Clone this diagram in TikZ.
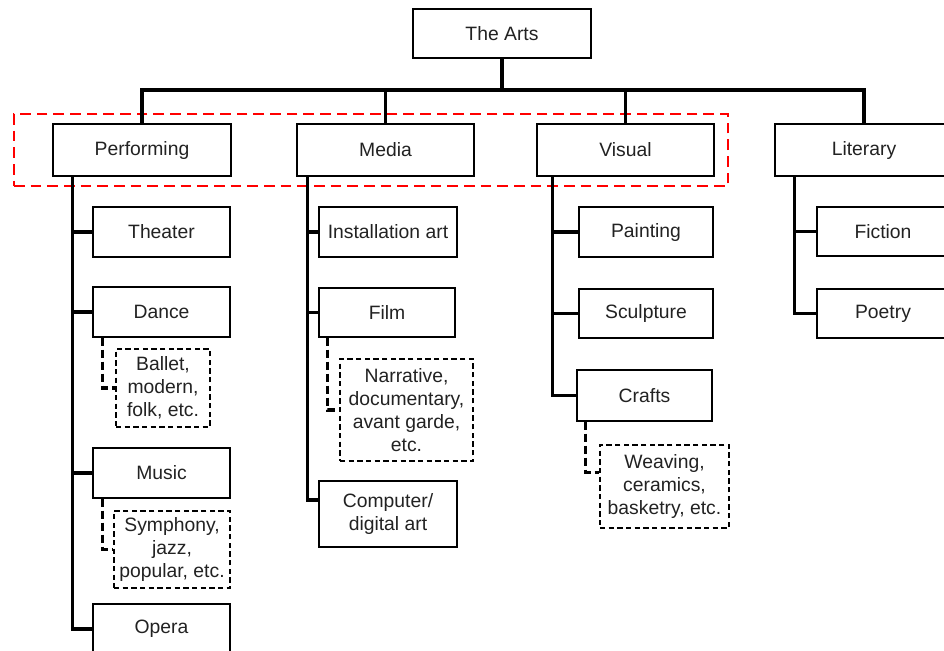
\documentclass[tikz,border=0pt]{standalone}
\usepackage{fontspec}
\setmainfont{Liberation Sans}
\usetikzlibrary{calc}
\definecolor{txt}{HTML}{222222}
\tikzset{
  box/.style={draw=black, line width=1.1pt, inner sep=0pt, text=txt, align=center, font=\fontsize{14.5}{17.4}\selectfont},
  dbox/.style={box, dashed, line width=1pt, dash pattern=on 4pt off 2.5pt},
  conn/.style={draw=black, line width=2.3pt, line cap=rect},
  dconn/.style={draw=black, line width=2.3pt, dash pattern=on 6pt off 3pt},
  grp/.style={draw=red, line width=1.8pt, dash pattern=on 8pt off 4.5pt, inner sep=0pt}
}
\newcommand\bx[7]{\node[#1, minimum width={(#5-#3)*0.75pt}, minimum height={(#6-#4)*0.75pt}] (#2) at ({(#3+#5)/2},{(#4+#6)/2}) {#7};}
\begin{document}
\begin{tikzpicture}[x=0.75pt, y=-0.75pt]
\useasboundingbox (0,0) rectangle (944,650);
\fill[white] (0,0) rectangle (944,650);
% top level
\bx{box}{arts}{413}{9}{591}{58}{The Arts}
\bx{box}{perf}{53}{124}{231}{176}{Performing}
\bx{box}{media}{297}{124}{474}{176}{Media}
\bx{box}{visual}{537}{124}{714}{176}{Visual}
\bx{box}{lit}{775}{124}{953}{176}{Literary}
\bx{grp}{group}{14}{114}{728}{186}{}
% performing
\bx{box}{theater}{93}{207}{230}{257}{Theater}
\bx{box}{dance}{93}{287}{230}{337}{Dance}
\bx{dbox}{ballet}{116}{349}{210}{427}{Ballet,\\modern,\\folk, etc.}
\bx{box}{music}{93}{448}{230}{498}{Music}
\bx{dbox}{symph}{114}{511}{230}{588}{Symphony,\\jazz,\\popular, etc.}
\bx{box}{opera}{93}{604}{230}{654}{Opera}
% media
\bx{box}{install}{319}{207}{457}{257}{Installation art}
\bx{box}{film}{319}{288}{455}{337}{Film}
\bx{dbox}{narr}{340}{359}{473}{461}{Narrative,\\documentary,\\avant garde,\\etc.}
\bx{box}{comp}{319}{481}{457}{547}{Computer/\\digital art}
% visual
\bx{box}{paint}{579}{207}{713}{257}{Painting}
\bx{box}{sculpt}{579}{289}{713}{338}{Sculpture}
\bx{box}{crafts}{577}{370}{712}{421}{Crafts}
\bx{dbox}{weave}{600}{445}{729}{528}{Weaving,\\ceramics,\\basketry, etc.}
% literary
\bx{box}{fiction}{817}{207}{949}{256}{Fiction}
\bx{box}{poetry}{817}{289}{949}{338}{Poetry}
% top connectors
\coordinate (bar) at (0,90);
\draw[conn] (arts.south) -- (arts.south |- bar);
\draw[conn] (perf.north) |- (bar -| lit.north) -- (lit.north);
\draw[conn] (media.north) -- (media.north |- bar);
\draw[conn] (visual.north) -- (visual.north |- bar);
% trunks
\coordinate (ptop) at ($(perf.south west)+(20,0)$);
\coordinate (mtop) at ($(media.south west)+(11,0)$);
\coordinate (vtop) at ($(visual.south west)+(16,0)$);
\coordinate (ltop) at ($(lit.south west)+(20,0)$);
\coordinate (compc) at ([yshift=10.5pt]comp.west);
\coordinate (weavec) at ([yshift=10.5pt]weave.west);
\draw[conn] (ptop) -- (ptop |- opera.west) -- (opera.west);
\draw[conn] (theater.west) -- (theater.west -| ptop);
\draw[conn] (dance.west) -- (dance.west -| ptop);
\draw[conn] (music.west) -- (music.west -| ptop);
\draw[conn] (mtop) -- (mtop |- compc) -- (compc);
\draw[conn] (install.west) -- (install.west -| mtop);
\draw[conn] (film.west) -- (film.west -| mtop);
\draw[conn] (vtop) -- (vtop |- crafts.west) -- (crafts.west);
\draw[conn] (paint.west) -- (paint.west -| vtop);
\draw[conn] (sculpt.west) -- (sculpt.west -| vtop);
\draw[conn] (ltop) -- (ltop |- poetry.west) -- (poetry.west);
\draw[conn] (fiction.west) -- (fiction.west -| ltop);
% dashed connectors
\draw[dconn] ($(dance.south west)+(10,0)$) |- (ballet.west);
\draw[dconn] ($(music.south west)+(10,0)$) |- (symph.west);
\draw[dconn] ($(film.south west)+(9,0)$) |- (narr.west);
\draw[dconn] ($(crafts.south west)+(9,0)$) |- (weavec);
\end{tikzpicture}
\end{document}
